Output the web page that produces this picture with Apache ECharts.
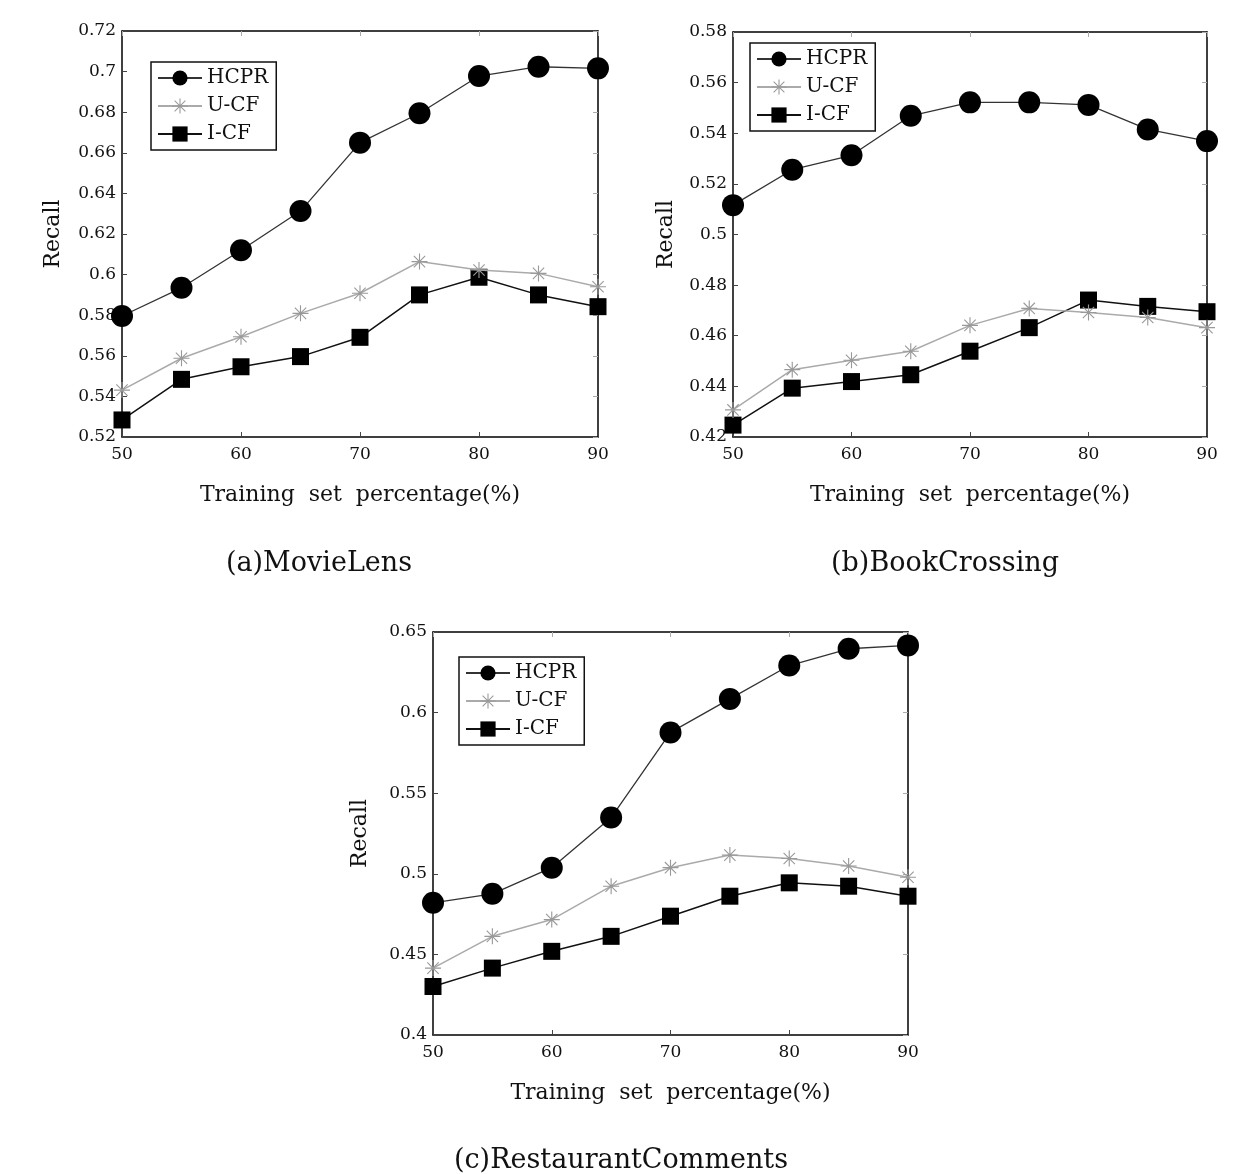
<!DOCTYPE html>
<html>
<head>
<meta charset="utf-8">
<script src="https://cdn.jsdelivr.net/npm/echarts@6/dist/echarts.min.js"></script>
<style>
html,body{margin:0;padding:0;background:#fff;}
#chart{width:1236px;height:1174px;}
</style>
</head>
<body>
<div id="chart"></div>
<script>
// ---- data ----
const trainingPct = [50, 55, 60, 65, 70, 75, 80, 85, 90];
const seriesNames = ['HCPR', 'U-CF', 'I-CF'];

const movieHCPR = [0.5796, 0.5935, 0.612, 0.6313, 0.665, 0.6795, 0.6978, 0.7024, 0.7016];
const movieUCF  = [0.5431, 0.5588, 0.5694, 0.5809, 0.5908, 0.6064, 0.6023, 0.6006, 0.594];
const movieICF  = [0.5284, 0.5484, 0.5546, 0.5596, 0.5691, 0.59, 0.5987, 0.59, 0.5842];

const bookHCPR = [0.5116, 0.5256, 0.5313, 0.5469, 0.5522, 0.5522, 0.5512, 0.5415, 0.5369];
const bookUCF  = [0.4307, 0.4466, 0.4503, 0.4539, 0.4641, 0.4708, 0.4692, 0.4672, 0.4632];
const bookICF  = [0.4247, 0.4393, 0.4419, 0.4446, 0.4539, 0.4632, 0.4741, 0.4716, 0.4695];

const restHCPR = [0.482, 0.4876, 0.5038, 0.5349, 0.5877, 0.6085, 0.6292, 0.6396, 0.6417];
const restUCF  = [0.4415, 0.4612, 0.4716, 0.4923, 0.5038, 0.5116, 0.5095, 0.5048, 0.4979];
const restICF  = [0.4301, 0.4415, 0.4519, 0.4612, 0.4737, 0.4861, 0.4944, 0.4923, 0.4861];

const xTicks = [50, 60, 70, 80, 90];
const yRangeMovie = [0.52, 0.72, 0.02];
const yRangeBook  = [0.42, 0.58, 0.02];
const yRangeRest  = [0.40, 0.65, 0.05];

const captions = ['(a)MovieLens', '(b)BookCrossing', '(c)RestaurantComments'];
const xName = 'Training  set  percentage(%)';
const yName = 'Recall';

// ---- layout ----
const grids = [
  {left: 122, top: 31, width: 476, height: 406},
  {left: 733, top: 32, width: 474, height: 405},
  {left: 433, top: 632, width: 475, height: 403}
];
const yRanges = [yRangeMovie, yRangeBook, yRangeRest];
const yNameGaps = [58, 56, 62];
const legendPos = [{left: 151, top: 62}, {left: 750, top: 43}, {left: 459, top: 657}];
const captionPos = [[319, 564], [945, 564], [621, 1161]];
const dataSets = [
  [movieHCPR, movieUCF, movieICF],
  [bookHCPR, bookUCF, bookICF],
  [restHCPR, restUCF, restICF]
];

const FONT = 'DejaVu Serif';
const asterisk = 'path://M-0.7,-10L0.7,-10L0.7,10L-0.7,10Z' +
  'M-10,-0.7L10,-0.7L10,0.7L-10,0.7Z' +
  'M-7.57,-6.6L-6.6,-7.57L7.57,6.6L6.6,7.57Z' +
  'M6.6,-7.57L7.57,-6.6L-6.6,7.57L-7.57,6.6Z';

const styles = [
  {symbol: 'circle', symbolSize: 22, color: '#000', lineColor: '#333', lineWidth: 1.3},
  {symbol: asterisk, symbolSize: 16, color: '#999', lineColor: '#aaa', lineWidth: 1.5},
  {symbol: 'rect', symbolSize: 17, color: '#000', lineColor: '#111', lineWidth: 1.5}
];

const xAxes = [], yAxes = [], series = [], legends = [], graphics = [];
grids.forEach((g, i) => {
  const yr = yRanges[i];
  xAxes.push({
    type: 'value', gridIndex: i, min: 50, max: 90, interval: 10, position: 'bottom',
    name: xName, nameLocation: 'middle', nameGap: 47,
    nameTextStyle: {fontFamily: FONT, fontSize: 22, color: '#111'},
    axisLine: {show: true, lineStyle: {color: '#000', width: 1.5}},
    axisTick: {show: true, inside: true, length: 5, lineStyle: {color: '#444'}},
    axisLabel: {fontFamily: FONT, fontSize: 17, color: '#111', margin: 9},
    splitLine: {show: false}
  });
  yAxes.push({
    type: 'value', gridIndex: i, min: yr[0], max: yr[1], interval: yr[2], position: 'left',
    name: yName, nameLocation: 'middle', nameGap: yNameGaps[i],
    nameTextStyle: {fontFamily: FONT, fontSize: 22, color: '#111'},
    axisLine: {show: true, lineStyle: {color: '#000', width: 1.5}},
    axisTick: {show: true, inside: true, length: 5, lineStyle: {color: '#444'}},
    axisLabel: {fontFamily: FONT, fontSize: 17, color: '#111', margin: 6},
    splitLine: {show: false}
  });
});
grids.forEach((g, i) => {
  const yr = yRanges[i];
  xAxes.push({
    type: 'value', gridIndex: i, min: 50, max: 90, interval: 10, position: 'top',
    axisLine: {show: true, lineStyle: {color: '#000', width: 1.5}},
    axisTick: {show: true, inside: true, length: 5, lineStyle: {color: '#aaa'}},
    axisLabel: {show: false}, splitLine: {show: false}
  });
  yAxes.push({
    type: 'value', gridIndex: i, min: yr[0], max: yr[1], interval: yr[2], position: 'right',
    axisLine: {show: true, lineStyle: {color: '#000', width: 1.5}},
    axisTick: {show: true, inside: true, length: 5, lineStyle: {color: '#aaa'}},
    axisLabel: {show: false}, splitLine: {show: false}
  });
});

dataSets.forEach((set, i) => {
  set.forEach((vals, k) => {
    const st = styles[k];
    series.push({
      name: seriesNames[k], type: 'line', xAxisIndex: i, yAxisIndex: i,
      data: trainingPct.map((x, j) => [x, vals[j]]),
      symbol: st.symbol, symbolSize: st.symbolSize, showAllSymbol: true,
      itemStyle: {color: st.color, opacity: 1},
      lineStyle: {color: st.lineColor, width: st.lineWidth},
      z: 3 - k + 2,
      animation: false
    });
  });
  legends.push({
    data: seriesNames, orient: 'vertical', left: legendPos[i].left, top: legendPos[i].top,
    backgroundColor: '#fff', borderColor: '#111', borderWidth: 1.5, borderRadius: 0,
    padding: [6, 8, 6, 6], itemGap: 8, itemWidth: 44, itemHeight: 19,
    textStyle: {fontFamily: FONT, fontSize: 20, color: '#111'},
    selectedMode: false
  });
  graphics.push({
    type: 'text', x: captionPos[i][0], y: captionPos[i][1],
    style: {text: captions[i], fontFamily: FONT, fontSize: 27, fill: '#111',
            textAlign: 'center', textVerticalAlign: 'middle'}
  });
});

const chart = echarts.init(document.getElementById('chart'), null, {renderer: 'canvas'});
chart.setOption({
  backgroundColor: '#fff',
  animation: false,
  grid: grids,
  xAxis: xAxes,
  yAxis: yAxes,
  legend: legends,
  series: series,
  graphic: graphics
});
</script>
</body>
</html>
